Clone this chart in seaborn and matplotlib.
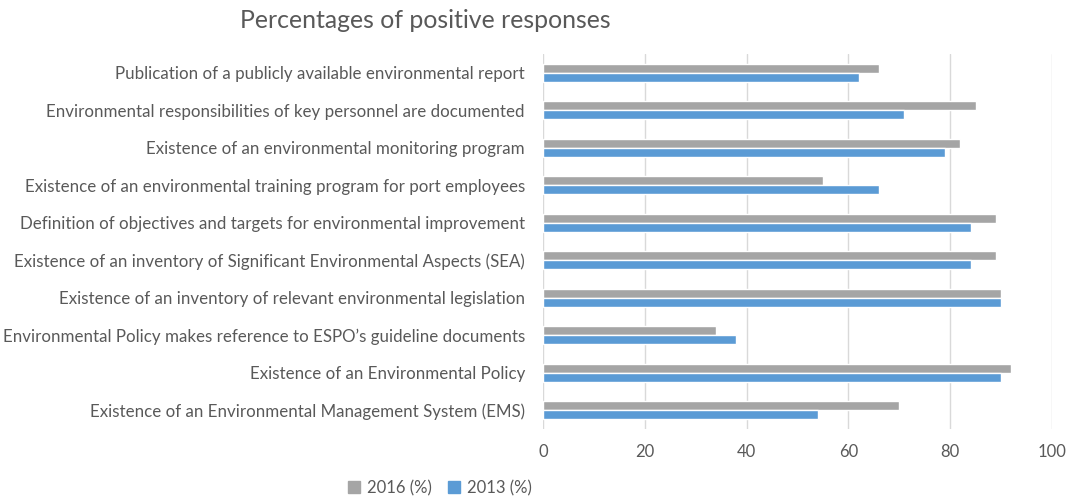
import pandas as pd
import matplotlib.pyplot as plt
import seaborn as sns
from matplotlib.patches import Patch

# survey items, top to bottom as in the chart
items = [
    'Publication of a publicly available environmental report',
    'Environmental responsibilities of key personnel are documented',
    'Existence of an environmental monitoring program',
    'Existence of an environmental training program for port employees',
    'Definition of objectives and targets for environmental improvement',
    'Existence of an inventory of Significant Environmental Aspects (SEA)',
    'Existence of an inventory of relevant environmental legislation',
    'Environmental Policy makes reference to ESPO\u2019s guideline documents',
    'Existence of an Environmental Policy',
    'Existence of an Environmental Management System (EMS)',
]
pct_2016 = [66, 85, 82, 55, 89, 89, 90, 34, 92, 70]
pct_2013 = [62, 71, 79, 66, 84, 84, 90, 38, 90, 54]
years = ['2016 (%)', '2013 (%)']

df = pd.DataFrame({
    'item': items * 2,
    'value': pct_2016 + pct_2013,
    'year': [years[0]] * len(items) + [years[1]] * len(items),
})

sns.set_style('white')
plt.rcParams['font.family'] = ['Lato', 'DejaVu Sans']
txt = '#595959'

fig = plt.figure(figsize=(10.69, 4.99), dpi=100)
ax = fig.add_axes([543 / 1069, 1 - 429 / 499, 509 / 1069, 375 / 499])

sns.barplot(data=df, y='item', x='value', hue='year', hue_order=years,
            order=items, orient='h', palette=['#A5A5A5', '#5B9BD5'],
            width=0.49, gap=0, saturation=1, ax=ax, legend=False)

ax.set_xlim(0, 100)
ax.set_xticks(range(0, 101, 20))
ax.grid(axis='x', color='#D9D9D9', linewidth=1)
ax.set_axisbelow(True)
for s in ax.spines.values():
    s.set_visible(False)
ax.tick_params(axis='y', length=0, pad=13, labelsize=12.2, labelcolor=txt)
ax.tick_params(axis='x', length=0, pad=11, labelsize=12, labelcolor=txt)
ax.set_xlabel('')
ax.set_ylabel('')

fig.text(240 / 1069, 1 - 21 / 499, 'Percentages of positive responses',
         fontsize=17.9, color=txt, va='center', ha='left')

# legend in the bottom centre
handles = [Patch(color='#A5A5A5'), Patch(color='#5B9BD5')]
fig.legend(handles, years, loc='center', bbox_to_anchor=(440 / 1069, 1 - 488 / 499),
           ncol=2, frameon=False, fontsize=12, labelcolor=txt,
           handlelength=0.7, handleheight=0.7, handletextpad=0.4, columnspacing=1.0)

fig.savefig('out.png', dpi=100)
